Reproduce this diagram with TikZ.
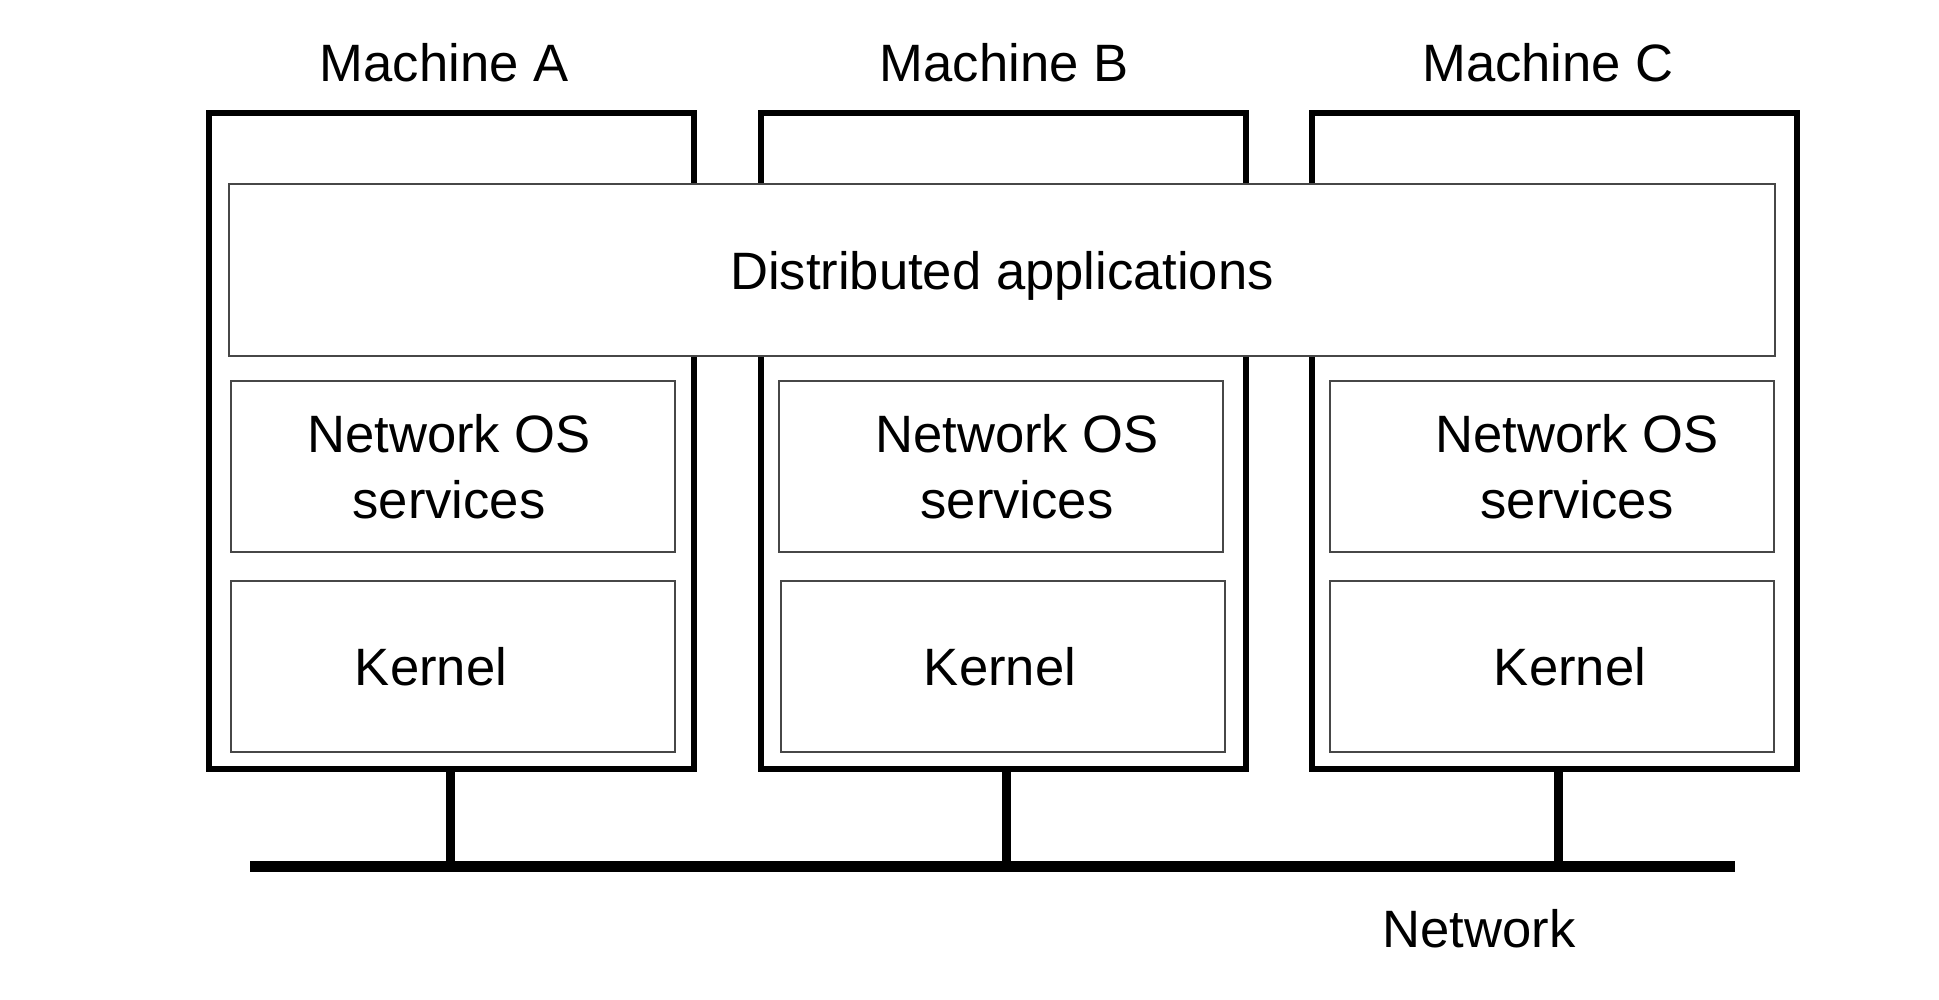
\documentclass[tikz,border=0pt]{standalone}
\usepackage{fontspec}
\setmainfont{Liberation Sans}
\begin{document}
\begin{tikzpicture}[x=0.5pt,y=-0.5pt,
  every node/.style={font=\fontsize{26.3pt}{33pt}\selectfont, inner sep=0pt, outer sep=0pt},
  machine/.style={draw=black, line width=3pt, minimum width=242.5pt, minimum height=328pt},
  layer/.style={draw=black!72, line width=1.3pt, fill=white},
  wide/.style={layer, minimum width=773pt, minimum height=86pt},
  cell/.style={layer, minimum width=222pt, minimum height=85.5pt},
  lbl/.style={align=center},
  stemline/.style={line width=4.5pt},
  netline/.style={line width=5.5pt}
]
\fill[white] (0,0) rectangle (1939,1000);
\useasboundingbox (0,0) rectangle (1939,1000);

% machine boxes
\node[machine] (mA) at (451,441) {};
\node[machine] (mB) at (1003,441) {};
\node[machine] (mC) at (1554,441) {};

% machine labels
\node[anchor=base] (tA) at (444,82) {Machine A};
\node[anchor=base] (tB) at (1004,82) {Machine B};
\node[anchor=base] (tC) at (1548,82) {Machine C};

% distributed applications
\node[wide] (dist) at (1002,270) {};
\node[lbl] (distT) at ([yshift=-3pt]dist.center) {Distributed applications};

% network OS services
\node[cell] (nA) at (453,466.5) {};
\node[cell] (nB) at (1001,466.5) {};
\node[cell] (nC) at (1552,466.5) {};
\node[lbl] (nAT) at ([xshift=-2pt]nA.center) {Network OS\\services};
\node[lbl] (nBT) at ([xshift=8pt]nB.center) {Network OS\\services};
\node[lbl] (nCT) at ([xshift=12.5pt]nC.center) {Network OS\\services};

% kernels
\node[cell] (kA) at (453,666.5) {};
\node[cell] (kB) at (1003,666.5) {};
\node[cell] (kC) at (1552,666.5) {};
\node[lbl] (kAT) at ([xshift=-11pt]kA.center) {Kernel};
\node[lbl] (kBT) at ([xshift=-1.5pt]kB.center) {Kernel};
\node[lbl] (kCT) at ([xshift=9pt]kC.center) {Kernel};

% network
\coordinate (netL) at (250,866);
\coordinate (netR) at (1735,866);
\coordinate (sA) at (450,866);
\coordinate (sB) at (1006,866);
\coordinate (sC) at (1558,866);
\draw[netline] (netL) -- (netR);
\draw[stemline] (mA.south -| sA) -- (sA);
\draw[stemline] (mB.south -| sB) -- (sB);
\draw[stemline] (mC.south -| sC) -- (sC);

\node (netT) at (1479,929) {Network};
\end{tikzpicture}
\end{document}
